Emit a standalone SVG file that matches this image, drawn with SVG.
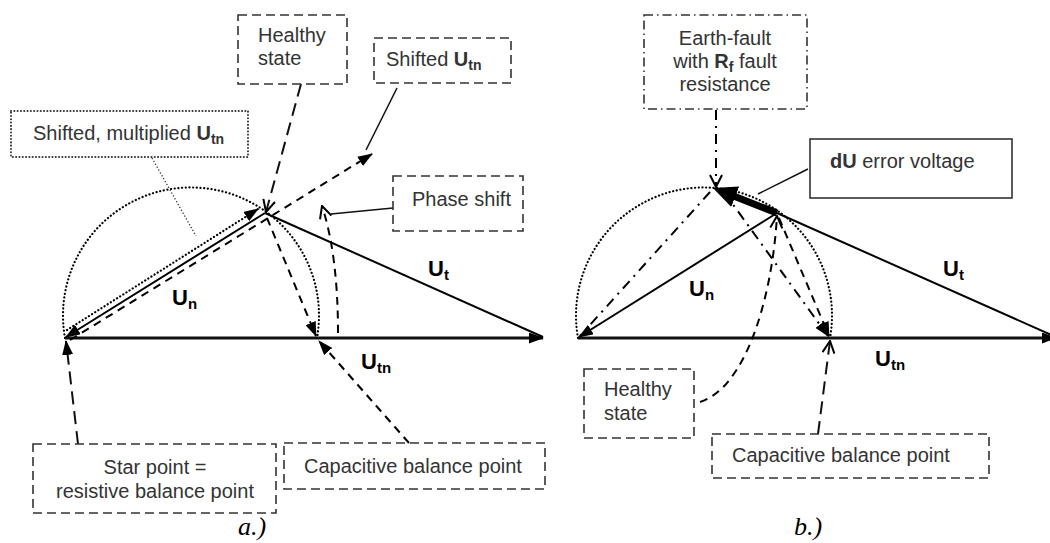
<svg xmlns="http://www.w3.org/2000/svg" width="1050" height="543" viewBox="0 0 1050 543">
<defs>
<style>
text{font-family:"Liberation Sans",Arial,sans-serif;fill:#333;}
.t{font-size:20px;}
.b{font-weight:bold;}
.lbl{font-size:22px;font-weight:bold;fill:#000;}
.sub{font-size:15px;}
.ssub{font-size:14px;font-weight:bold;}
.box{fill:none;stroke:#333;stroke-width:1.6;stroke-dasharray:9 5;}
.boxdot{fill:none;stroke:#333;stroke-width:2;stroke-dasharray:0.1 3.2;stroke-linecap:round;}
.boxdd{fill:none;stroke:#333;stroke-width:1.6;stroke-dasharray:9 4 1.5 4;}
.boxs{fill:none;stroke:#333;stroke-width:1.6;}
.vec{stroke:#000;stroke-width:2;fill:none;}
.base{stroke:#111;stroke-width:3;fill:none;}
.arc{stroke:#000;stroke-width:2.2;fill:none;stroke-dasharray:0.1 3.6;stroke-linecap:round;}
.dash{stroke:#000;stroke-width:2;fill:none;stroke-dasharray:8 6;}
.ldash{stroke:#111;stroke-width:2;fill:none;stroke-dasharray:13 7;}
.dot{stroke:#000;stroke-width:2.2;fill:none;stroke-dasharray:0.1 3.6;stroke-linecap:round;}
.dd{stroke:#000;stroke-width:2;fill:none;stroke-dasharray:10 6 2 6;}
.thin{stroke:#111;stroke-width:1.5;fill:none;}
.thindot{stroke:#333;stroke-width:1.3;fill:none;stroke-dasharray:1.3 2;}
.thick{stroke:#000;stroke-width:7;fill:none;}
.cap{font-family:"Liberation Serif","Times New Roman",serif;font-style:italic;font-size:26px;fill:#000;}
</style>
<marker id="fa" viewBox="0 0 15 11" refX="14" refY="5.5" markerWidth="15" markerHeight="11" orient="auto" markerUnits="userSpaceOnUse"><path d="M0,0 L15,5.5 L0,11 Z" fill="#000"/></marker>
<marker id="oa" viewBox="0 0 14 14" refX="13" refY="7" markerWidth="14" markerHeight="14" orient="auto" markerUnits="userSpaceOnUse"><path d="M1,1 L13,7 L1,13" fill="none" stroke="#000" stroke-width="2"/></marker>
<marker id="big" viewBox="0 0 24 22" refX="10" refY="11" markerWidth="24" markerHeight="22" orient="auto" markerUnits="userSpaceOnUse"><path d="M0,0 L24,11 L0,22 Z" fill="#000"/></marker>
</defs>

<g id="connectors">
  <!-- panel a -->
  <path class="arc" d="M65,338 A128,128 0 1 1 317,338"/>
  <line class="base" x1="65" y1="338" x2="543" y2="338" marker-end="url(#fa)"/>
  <line class="vec" x1="265" y1="213" x2="543" y2="337"/>
  <line class="vec" x1="265" y1="213" x2="66" y2="337" marker-end="url(#fa)"/>
  <line class="dot" x1="67" y1="330" x2="258" y2="209" marker-end="url(#fa)"/>
  <line class="dash" x1="70" y1="340" x2="372" y2="154" marker-end="url(#fa)"/>
  <line class="dash" x1="267" y1="218" x2="316" y2="336" marker-end="url(#fa)"/>
  <path class="dash" d="M338,333 Q338,255 322,206" marker-end="url(#oa)"/>
  <line class="ldash" x1="301" y1="84" x2="266" y2="212" marker-end="url(#oa)"/>
  <line class="thin" x1="397" y1="88" x2="366" y2="150"/>
  <line class="thindot" x1="152" y1="158" x2="196" y2="236"/>
  <line class="thin" x1="393" y1="208" x2="331" y2="214"/>
  <line class="ldash" x1="78" y1="444" x2="66" y2="341" marker-end="url(#fa)"/>
  <line class="dash" x1="409" y1="443" x2="319" y2="341" marker-end="url(#fa)"/>
  <!-- panel b -->
  <path class="arc" d="M578,338 A128,128 0 1 1 830,338"/>
  <line class="base" x1="578" y1="338" x2="1056" y2="338" marker-end="url(#fa)"/>
  <line class="vec" x1="777" y1="213" x2="1056" y2="337"/>
  <line class="vec" x1="777" y1="213" x2="579" y2="337" marker-end="url(#fa)"/>
  <line class="dd" x1="710" y1="192" x2="580" y2="336"/>
  <line class="dd" x1="724" y1="192" x2="828" y2="336" marker-end="url(#fa)"/>
  <line class="dash" x1="779" y1="218" x2="829" y2="336" marker-end="url(#fa)"/>
  <line class="thick" x1="777" y1="213" x2="726" y2="193" marker-end="url(#big)"/>
  <line class="dd" x1="716" y1="110" x2="716" y2="187" marker-end="url(#oa)"/>
  <line class="thin" x1="808" y1="169" x2="758" y2="194"/>
  <path class="dash" d="M700,402 C745,388 772,300 777,216" marker-end="url(#oa)"/>
  <line class="ldash" x1="818" y1="434" x2="830" y2="341" marker-end="url(#oa)"/>
</g>

<g id="labels">
  <text class="lbl" x="172" y="305">U<tspan class="sub" dy="4">n</tspan></text>
  <text class="lbl" x="428" y="276">U<tspan class="sub" dy="4">t</tspan></text>
  <text class="lbl" x="361" y="369">U<tspan class="sub" dy="4">tn</tspan></text>
  <text class="lbl" x="689" y="296">U<tspan class="sub" dy="4">n</tspan></text>
  <text class="lbl" x="943" y="276">U<tspan class="sub" dy="4">t</tspan></text>
  <text class="lbl" x="875" y="366">U<tspan class="sub" dy="4">tn</tspan></text>
  <text class="cap" x="238" y="535">a.)</text>
  <text class="cap" x="794" y="535">b.)</text>
</g>

<g id="node-healthy-a">
  <rect class="box" x="238" y="15" width="109" height="69"/>
  <text class="t" x="258" y="42">Healthy</text>
  <text class="t" x="258" y="65">state</text>
</g>
<g id="node-shifted-utn">
  <rect class="box" x="374" y="38" width="137" height="45"/>
  <text class="t" x="386" y="66">Shifted <tspan class="b">U</tspan><tspan class="ssub" dy="4">tn</tspan></text>
</g>
<g id="node-shifted-multiplied">
  <rect class="boxdot" x="11" y="111" width="237" height="46"/>
  <text class="t" x="33" y="140">Shifted, multiplied <tspan class="b">U</tspan><tspan class="ssub" dy="4">tn</tspan></text>
</g>
<g id="node-phase-shift">
  <rect class="box" x="393" y="176" width="130" height="55"/>
  <text class="t" x="412" y="206">Phase shift</text>
</g>
<g id="node-star-point">
  <rect class="box" x="33" y="444" width="243" height="69"/>
  <text class="t" x="155" y="474" text-anchor="middle">Star point =</text>
  <text class="t" x="155" y="498" text-anchor="middle">resistive balance point</text>
</g>
<g id="node-capacitive-a">
  <rect class="box" x="284" y="443" width="261" height="46"/>
  <text class="t" x="304" y="473">Capacitive balance point</text>
</g>
<g id="node-earth-fault">
  <rect class="boxdd" x="644" y="15" width="163" height="94"/>
  <text class="t" x="725" y="45" text-anchor="middle">Earth-fault</text>
  <text class="t" x="725" y="68" text-anchor="middle">with <tspan class="b">R</tspan><tspan class="ssub" dy="4">f</tspan><tspan dy="-4"> fault</tspan></text>
  <text class="t" x="725" y="91" text-anchor="middle">resistance</text>
</g>
<g id="node-du">
  <rect class="boxs" x="810" y="139" width="202" height="59"/>
  <text class="t" x="830" y="168"><tspan class="b">dU</tspan> error voltage</text>
</g>
<g id="node-healthy-b">
  <rect class="box" x="584" y="369" width="110" height="69"/>
  <text class="t" x="604" y="396">Healthy</text>
  <text class="t" x="604" y="420">state</text>
</g>
<g id="node-capacitive-b">
  <rect class="box" x="712" y="434" width="277" height="44"/>
  <text class="t" x="732" y="462">Capacitive balance point</text>
</g>
</svg>
